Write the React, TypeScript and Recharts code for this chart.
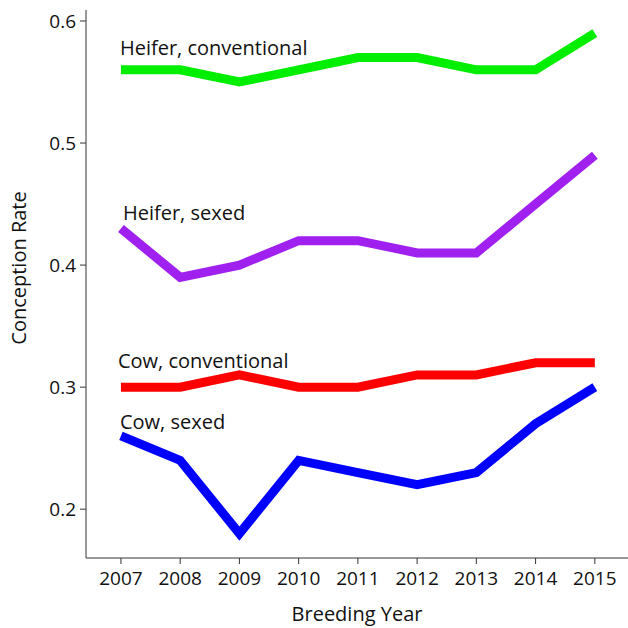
import React from "react";
import { LineChart, Line, XAxis, YAxis, Label } from "recharts";

const years = [2007, 2008, 2009, 2010, 2011, 2012, 2013, 2014, 2015];
const heiferConventional = [0.56, 0.56, 0.55, 0.56, 0.57, 0.57, 0.56, 0.56, 0.59];
const heiferSexed = [0.43, 0.39, 0.40, 0.42, 0.42, 0.41, 0.41, 0.45, 0.49];
const cowConventional = [0.30, 0.30, 0.31, 0.30, 0.30, 0.31, 0.31, 0.32, 0.32];
const cowSexed = [0.26, 0.24, 0.18, 0.24, 0.23, 0.22, 0.23, 0.27, 0.30];
const yTicks = [0.2, 0.3, 0.4, 0.5, 0.6];

const data = years.map((year, i) => ({
  year,
  hc: heiferConventional[i],
  hs: heiferSexed[i],
  cc: cowConventional[i],
  cs: cowSexed[i],
}));

const FONT = "'Open Sans', sans-serif";

const makeLabel = (text: string, dx: number, dy: number) => (props: any) => {
  if (props.index !== 0) return null;
  return (
    <text
      x={props.x + dx}
      y={props.y + dy}
      fontFamily={FONT}
      fontSize={20}
      fill="#111"
      textAnchor="start"
      dominantBaseline="central"
    >
      {text}
    </text>
  );
};

const YTitle = (props: any) => {
  const vb = props.viewBox || {};
  const cy = vb.y + vb.height / 2 - 16;
  return (
    <text
      x={18}
      y={cy}
      transform={`rotate(-90, 18, ${cy})`}
      textAnchor="middle"
      dominantBaseline="central"
      fontFamily={FONT}
      fontSize={20}
      fill="#111"
    >
      Conception Rate
    </text>
  );
};

export default function App() {
  return (
    <div style={{ position: "absolute", left: 0, top: 0, background: "#fff" }}>
      <LineChart width={628} height={628} data={data} margin={{ top: 10, right: 0, bottom: 0, left: 0 }}>
        <XAxis
          dataKey="year"
          type="number"
          domain={[2006.41, 2015.56]}
          ticks={years}
          allowDataOverflow
          height={70}
          stroke="#333"
          tickSize={6}
          tick={{ fontFamily: FONT, fontSize: 19, fill: "#111" }}
          tickMargin={8}
        >
          <Label value="Breeding Year" position="insideBottom" offset={7} style={{ fontFamily: FONT, fontSize: 20, fill: "#111" }} />
        </XAxis>
        <YAxis
          type="number"
          domain={[0.16, 0.609]}
          ticks={yTicks}
          allowDataOverflow
          width={86}
          stroke="#333"
          tickSize={6}
          tickMargin={4}
          tick={{ fontFamily: FONT, fontSize: 19, fill: "#111" }}
        >
          <Label content={<YTitle />} />
        </YAxis>
        <Line dataKey="hc" stroke="#00ee00" strokeWidth={9} dot={false} isAnimationActive={false} strokeLinejoin="miter" label={makeLabel("Heifer, conventional", -1, -22)} />
        <Line dataKey="hs" stroke="#a020f0" strokeWidth={9} dot={false} isAnimationActive={false} strokeLinejoin="miter" label={makeLabel("Heifer, sexed", 2, -16)} />
        <Line dataKey="cc" stroke="#ff0000" strokeWidth={9} dot={false} isAnimationActive={false} strokeLinejoin="miter" label={makeLabel("Cow, conventional", -3, -27)} />
        <Line dataKey="cs" stroke="#0000ff" strokeWidth={9} dot={false} isAnimationActive={false} strokeLinejoin="miter" label={makeLabel("Cow, sexed", -1, -14)} />
      </LineChart>
    </div>
  );
}
